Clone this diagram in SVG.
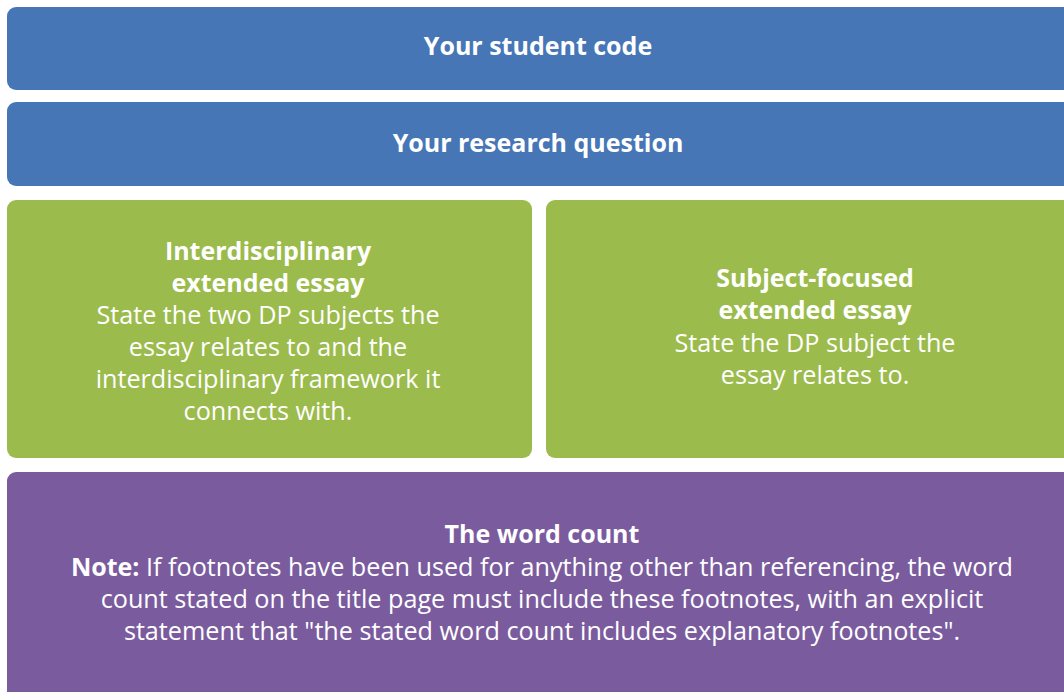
<svg xmlns="http://www.w3.org/2000/svg" width="1064" height="692" viewBox="0 0 1064 692">
<style>
.blue{fill:#4676b6}
.green{fill:#9bbb4c}
.purple{fill:#7a5c9e}
text{font-family:"Open Sans","Noto Sans",sans-serif;fill:#fff;text-anchor:middle;font-size:25.2px}
.b{font-weight:700;font-size:25px}
</style>
<rect width="1064" height="692" fill="#fff"/>
<g id="student-code">
<rect class="blue" x="7" y="7" width="1070" height="83" rx="9"/>
<text class="b" x="538" y="55">Your student code</text>
</g>
<g id="research-question">
<rect class="blue" x="7" y="102" width="1070" height="84" rx="9"/>
<text class="b" x="538" y="152">Your research question</text>
</g>
<g id="interdisciplinary">
<rect class="green" x="7" y="200" width="525" height="258" rx="9"/>
<text x="268" y="260"><tspan class="b" x="268">Interdisciplinary</tspan><tspan class="b" x="268" dy="32">extended essay</tspan><tspan x="268" dy="32">State the two DP subjects the</tspan><tspan x="268" dy="32">essay relates to and the</tspan><tspan x="268" dy="32">interdisciplinary framework it</tspan><tspan x="268" dy="32">connects with.</tspan></text>
</g>
<g id="subject-focused">
<rect class="green" x="546" y="200" width="540" height="258" rx="9"/>
<text x="815" y="287"><tspan class="b" x="815">Subject-focused</tspan><tspan class="b" x="815" dy="32">extended essay</tspan><tspan x="815" dy="33">State the DP subject the</tspan><tspan x="815" dy="32">essay relates to.</tspan></text>
</g>
<g id="word-count">
<rect class="purple" x="7" y="472" width="1070" height="240" rx="9"/>
<text x="542" y="543"><tspan class="b" x="542">The word count</tspan><tspan x="542" dy="33"><tspan class="b">Note:</tspan> If footnotes have been used for anything other than referencing, the word</tspan><tspan x="542" dy="32">count stated on the title page must include these footnotes, with an explicit</tspan><tspan x="542" dy="32">statement that "the stated word count includes explanatory footnotes".</tspan></text>
</g>
<g id="connectors"/>
</svg>
